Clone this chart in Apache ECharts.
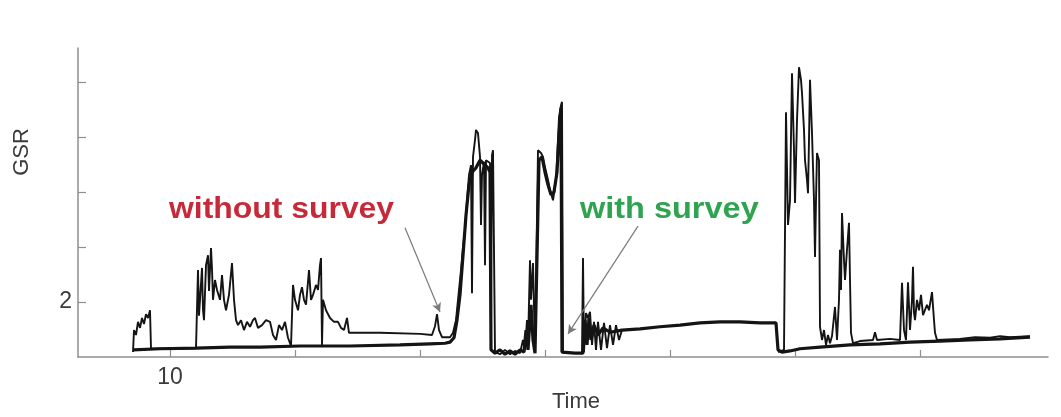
<!DOCTYPE html>
<html>
<head>
<meta charset="utf-8">
<title>GSR over time</title>
<script src="https://cdn.jsdelivr.net/npm/echarts@6/dist/echarts.min.js"></script>
<style>
  html, body { margin: 0; padding: 0; background: #ffffff; }
  #chart { width: 1061px; height: 417px; }
</style>
</head>
<body>
<div id="chart"></div>
<script>
// Fast, spiky GSR trace (time, value); null marks a pause in the recording
const thinTime = [
  7.04, 7.12, 7.28, 7.44, 7.60, 7.76, 7.92, 8.08, 8.24, 8.40, 8.48, 12.08, 12.16, 12.24, 12.32, 12.40, 12.56,
  12.64, 12.72, 12.88, 13.04, 13.12, 13.28, 13.36, 13.44, 13.60, 13.76, 14.00, 14.16, 14.32, 14.48, 14.72, 14.96, 15.12, 15.28, 15.44,
  15.68, 15.92, 16.16, 16.40, 16.64, 16.80, 17.04, 17.36, 17.68, 18.00, 18.24, 18.48, 18.72, 18.96, 19.20, 19.44,
  19.68, 19.84, 20.00, 20.24, 20.40, 20.56, 20.72, 20.88, 21.12, 21.28, 21.44, 21.68, 21.84, 22.00, 22.08, 22.16,
  22.24, 22.48, 22.80, 23.12, 23.44, 23.68, 23.92, 24.16, 24.32, 26.80, 30.00, 30.96, 31.20, 31.36, 31.52, 31.76,
  32.40, 32.64, 32.88, 33.12, 33.28, 33.44, 33.60, 33.76, 33.92, 34.08, 34.16, 34.24, 34.40, 34.48, 34.64, 34.80,
  34.88, 34.96, 35.12, 35.20, 35.28, 35.44, 35.60, 35.68, 35.76, 35.84, 35.92, 36.00, 36.40, 36.80, 37.20, 37.60, 38.00,
  38.24, 38.40, 38.56, 38.64, 38.80, 38.88, 39.04, 39.20, 39.36, 39.44, 39.68, 39.84, 40.00, 40.24, 40.40, 40.64,
  40.88, 41.04, 41.12, 41.28, 41.36, 41.44, 42.16, 42.96, 43.04, 43.12, 43.28, 43.44, 43.60, 43.76, 43.92, 44.08,
  44.24, 44.48, 44.72, 44.96, 45.20, 45.44, 45.68, 45.92, 46.16, 52.00,
  58.64, 59.12, 59.28, 59.44, 59.60, 59.76, 59.92, 60.00, 60.16, 60.32, 60.48, 60.56, 60.72, 60.80, 60.96, 61.04,
  61.12, 61.20, 61.36, 61.52, 61.60, 61.68, 61.76, 61.92, 62.00, 62.16, 62.32, 62.48, 62.64, 62.80, 62.96, 63.20,
  63.36, 63.52, 63.60, 63.68, 63.76, 63.92, 64.00, 64.16, 64.32, 64.40, 64.48, 64.64, 65.20, 66.24, 66.40, 66.56,
  67.60, 68.40, 68.56, 68.72, 68.88, 69.04, 69.20, 69.36, 69.44, 69.52, 69.60, 69.76, 69.92, 70.08, 70.24, 70.40, 70.56,
  70.72, 70.96, 71.12, 71.20, 71.36, 73.20, 74.40, 75.60, 76.40, 77.20, 78.80
];
const thinGsr = [
  1.09, 1.49, 1.40, 1.64, 1.53, 1.71, 1.60, 1.78, 1.71, 1.85, 1.15, 1.16, 1.18, 2.58, 1.75, 2.04, 2.62,
  1.85, 1.67, 2.67, 2.85, 2.20, 2.98, 2.60, 2.04, 2.40, 2.22, 2.04, 2.49, 2.04, 1.85, 2.13, 2.71, 2.04, 1.67, 1.58,
  1.67, 1.49, 1.64, 1.55, 1.67, 1.71, 1.53, 1.58, 1.67, 1.64, 1.40, 1.31, 1.58, 1.49, 1.64, 1.35,
  1.20, 2.31, 2.04, 1.85, 2.13, 2.27, 2.04, 1.95, 2.58, 2.04, 2.13, 2.31, 2.22, 2.67, 2.80, 1.22,
  2.04, 1.85, 1.71, 1.64, 1.64, 1.53, 1.49, 1.71, 1.44, 1.44, 1.42, 1.40, 1.56, 1.78, 1.49, 1.36,
  1.36, 1.44, 1.67, 2.22, 2.58, 3.00, 3.31, 3.85, 4.31, 4.49, 2.16, 4.64, 4.95, 5.13, 5.07, 4.64,
  3.40, 4.31, 4.55, 2.67, 4.58, 4.55, 4.53, 1.49, 4.67, 4.76, 4.73, 1.09, 1.05, 1.13, 1.05, 1.11, 1.07,
  1.31, 1.13, 1.67, 1.22, 2.76, 2.04, 2.71, 1.09, 1.09, 4.76, 4.71, 4.64, 4.45, 4.22, 4.04, 3.85,
  4.22, 4.95, 5.36, 5.58, 5.64, 1.09, 1.07, 1.07, 2.80, 1.09, 1.80, 1.71, 1.82, 1.22, 1.64, 1.13,
  1.64, 1.13, 1.62, 1.16, 1.58, 1.22, 1.58, 1.31, 1.49, null,
  1.09, 1.13, 5.45, 3.40, 3.85, 6.16, 4.76, 3.80, 5.31, 6.27, 6.04, 5.80, 5.13, 4.58, 4.22, 3.98,
  4.95, 6.04, 5.07, 3.85, 2.82, 3.85, 4.71, 4.58, 1.55, 1.31, 1.49, 1.22, 1.40, 1.25, 1.38, 1.91,
  1.31, 2.04, 2.95, 2.22, 3.62, 2.76, 2.40, 2.95, 3.44, 2.40, 1.44, 1.25, 1.29, 1.31, 1.45, 1.31,
  1.33, 1.31, 2.35, 1.49, 1.31, 2.36, 1.49, 2.04, 2.64, 1.80, 1.67, 2.04, 1.85, 2.13, 1.76, 1.73, 1.95,
  1.85, 2.18, 1.67, 1.44, 1.31, 1.33, 1.36, 1.35, 1.38, 1.36, 1.38
];

// Slow, heavier GSR trace (time, value)
const thickTime = [
  7.04, 9.20, 12.08, 14.80, 17.20, 20.40, 24.40, 28.40, 30.80, 32.00, 32.40, 32.72, 32.96, 33.20, 33.44, 33.68,
  33.92, 34.16, 34.48, 34.80, 35.12, 35.44, 35.60, 35.68, 36.00, 36.40, 36.80, 37.20, 37.60, 38.00, 38.32, 38.48,
  38.64, 38.88, 39.04, 39.20, 39.36, 39.52, 39.76, 40.00, 40.24, 40.48, 40.72, 40.96, 41.12, 41.28, 41.36, 42.40,
  43.04, 43.20, 43.36, 43.52, 43.68, 43.92, 44.24, 44.64, 45.20, 46.16, 47.60, 49.20, 50.80, 52.40, 54.00, 55.60,
  57.20, 58.48, 58.64, 58.96, 59.60, 60.40, 62.00, 64.40, 66.80, 69.20, 71.60, 74.00, 76.40, 78.80
];
const thickGsr = [
  1.13, 1.15, 1.16, 1.18, 1.18, 1.20, 1.20, 1.22, 1.24, 1.25, 1.27, 1.35, 1.67, 2.13, 2.85, 3.58,
  4.13, 4.36, 4.44, 4.58, 4.51, 4.44, 4.36, 1.13, 1.07, 1.13, 1.05, 1.11, 1.05, 1.13, 1.09, 1.49,
  1.13, 1.95, 1.31, 1.07, 1.07, 4.58, 4.64, 4.36, 4.13, 3.95, 4.00, 4.36, 5.04, 5.53, 1.09, 1.07,
  1.07, 1.67, 1.22, 1.71, 1.31, 1.58, 1.40, 1.53, 1.45, 1.49, 1.51, 1.55, 1.58, 1.62, 1.64, 1.64,
  1.62, 1.62, 1.13, 1.09, 1.11, 1.15, 1.18, 1.22, 1.24, 1.27, 1.29, 1.31, 1.33, 1.36
];

// Axis ticks and labelled values
const timeTicks = [10, 20, 30, 40, 50, 60, 70];
const timeLabels = [10];
const gsrTicks = [2, 3, 4, 5, 6];
const gsrLabels = [2];

// Callouts: arrow from [time, gsr] to [time, gsr]
const withoutSurveyArrow = [[28.8, 3.35], [31.6, 1.82]];
const withSurveyArrow = [[47.44, 3.38], [41.84, 1.42]];

const pairs = (xs, ys) => xs.map((x, i) => [x, ys[i] === null ? '-' : ys[i]]);

const FONT = "'Liberation Sans', Arial, Helvetica, sans-serif";
const AXIS_GREY = '#8e8e8e';
const INK = '#141414';

const chart = echarts.init(document.getElementById('chart'), null, { renderer: 'canvas' });

const arrowLine = (seg) => [{ coord: seg[0] }, { coord: seg[1] }];

chart.setOption({
  backgroundColor: '#ffffff',
  animation: false,
  grid: { left: 78, right: 13, top: 48, bottom: 60, containLabel: false },
  xAxis: {
    type: 'value',
    min: 2.64,
    max: 80.24,
    axisLine: { show: true, lineStyle: { color: AXIS_GREY, width: 1.5 } },
    axisTick: { show: true, inside: true, length: 7, customValues: timeTicks, lineStyle: { color: AXIS_GREY, width: 1.2 } },
    axisLabel: { customValues: timeLabels, fontSize: 23, color: '#3a3a3a', fontFamily: FONT, margin: 9 },
    splitLine: { show: false }
  },
  yAxis: {
    type: 'value',
    min: 1,
    max: 6.62,
    axisLine: { show: true, lineStyle: { color: AXIS_GREY, width: 1.5 } },
    axisTick: { show: true, inside: true, length: 8, customValues: gsrTicks, lineStyle: { color: AXIS_GREY, width: 1.2 } },
    axisLabel: { customValues: gsrLabels, fontSize: 23, color: '#3a3a3a', fontFamily: FONT, margin: 6 },
    splitLine: { show: false }
  },
  series: [
    {
      name: 'GSR (slow)',
      type: 'line',
      data: pairs(thickTime, thickGsr),
      showSymbol: false,
      symbol: 'none',
      lineStyle: { color: INK, width: 3.2 },
      z: 2
    },
    {
      name: 'GSR',
      type: 'line',
      data: pairs(thinTime, thinGsr),
      showSymbol: false,
      symbol: 'none',
      connectNulls: false,
      lineStyle: { color: INK, width: 1.9 },
      z: 3,
      markLine: {
        silent: true,
        symbol: ['none', 'arrow'],
        symbolSize: [7, 9],
        label: { show: false },
        lineStyle: { color: '#7a7a7a', width: 1.2, type: 'solid' },
        data: [arrowLine(withoutSurveyArrow), arrowLine(withSurveyArrow)]
      }
    }
  ],
  graphic: [
    {
      type: 'text', x: 22, y: 152, rotation: Math.PI / 2,
      style: { text: 'GSR', fontSize: 22, fontFamily: FONT, fill: '#3a3a3a', textAlign: 'center', textVerticalAlign: 'middle' }
    },
    {
      type: 'text', x: 576, y: 402,
      style: { text: 'Time', fontSize: 22, fontFamily: FONT, fill: '#3a3a3a', textAlign: 'center', textVerticalAlign: 'middle' }
    },
    {
      type: 'text', x: 169, y: 210, scaleX: 1.1,
      style: { text: 'without survey', fontSize: 29, fontWeight: 'bold', fontFamily: FONT, fill: '#c62a3a', textAlign: 'left', textVerticalAlign: 'middle' }
    },
    {
      type: 'text', x: 580, y: 210, scaleX: 1.12,
      style: { text: 'with survey', fontSize: 29, fontWeight: 'bold', fontFamily: FONT, fill: '#2fa350', textAlign: 'left', textVerticalAlign: 'middle' }
    }
  ]
});
</script>
</body>
</html>
